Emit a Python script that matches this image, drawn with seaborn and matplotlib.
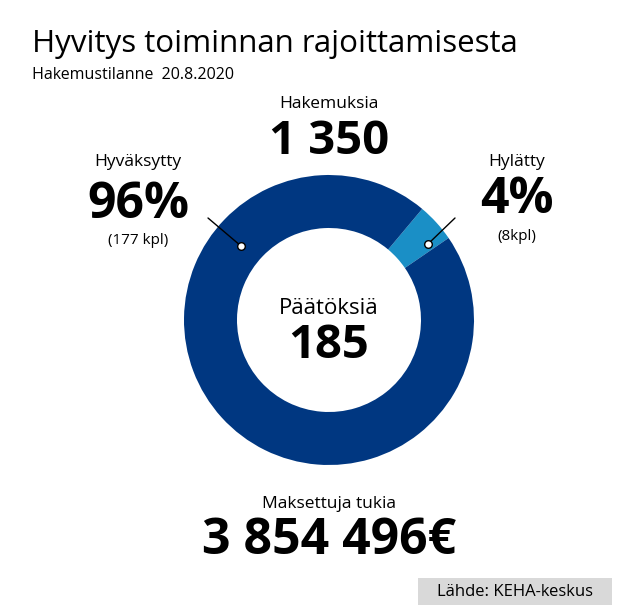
import matplotlib
matplotlib.use("Agg")
import matplotlib.pyplot as plt
import seaborn as sns

sns.set_theme(style="white")
plt.rcParams["font.family"] = "Open Sans"

categories = ["Hylätty", "Hyväksytty"]
counts = [8, 177]
colors = ["#1a8fc6", "#003781"]
total_decisions = "185"
applications = "1 350"
paid = "3 854 496€"

W, H = 633, 610
fig = plt.figure(figsize=(W / 100, H / 100), dpi=100)
ax = fig.add_axes([0, 0, 1, 1])

cx, cy, R = 329, H - 320, 145
ax.pie(counts, colors=colors, startangle=50, counterclock=False, radius=R,
       center=(cx, cy), wedgeprops=dict(width=53, edgecolor="none"), frame=True)
ax.set_xlim(0, W)
ax.set_ylim(0, H)
ax.set_aspect("equal")
ax.axis("off")

def Y(y):
    return H - y

def t(x, y, s, size, weight="normal", ha="center"):
    ax.text(x, Y(y), s, fontsize=size, fontweight=weight, ha=ha, va="center", color="black")

t(32, 44, "Hyvitys toiminnan rajoittamisesta", 22.5, ha="left")
t(32, 75, "Hakemustilanne  20.8.2020", 11.5, ha="left")
t(329, 104, "Hakemuksia", 12.5)
t(329, 142, applications, 34, "bold")
t(138, 162, "Hyväksytty", 12.5)
t(138, 205, "96%", 36, "bold")
t(138, 241, "(177 kpl)", 11)
t(517, 162, "Hylätty", 12.5)
t(517, 200, "4%", 36, "bold")
t(517, 236, "(8kpl)", 11)
t(329, 308, "Päätöksiä", 16)
t(329, 345, total_decisions, 34, "bold")
t(329, 504, "Maksettuja tukia", 12.5)
t(329, 541, paid, 36, "bold")

ax.plot([208, 241], [Y(218), Y(246)], color="black", lw=1)
ax.plot([455, 428], [Y(218), Y(244)], color="black", lw=1)
ax.scatter([241, 428], [Y(246), Y(244)], s=30, facecolor="white", edgecolor="black", lw=1, zorder=5)

ax.add_patch(plt.Rectangle((418, Y(605)), 194, 27, facecolor="#d9d9d9", edgecolor="none"))
t(515, 592, "Lähde: KEHA-keskus", 12)

fig.savefig("out.png", dpi=100)
